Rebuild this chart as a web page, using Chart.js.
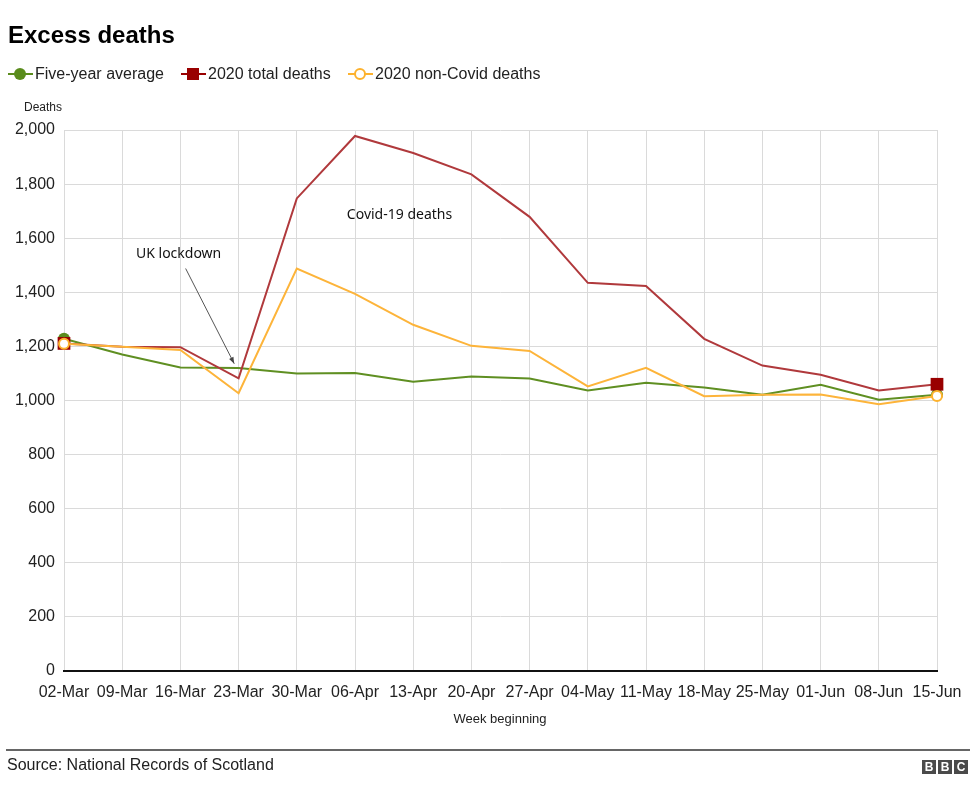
<!DOCTYPE html>
<html>
<head>
<meta charset="utf-8">
<script src="https://cdn.jsdelivr.net/npm/chart.js@4/dist/chart.umd.min.js"></script>
<style>
  html, body { margin:0; padding:0; background:#fff; }
  body { width:976px; height:800px; position:relative; overflow:hidden; font-family:"Liberation Sans", Arial, sans-serif; color:#222; }
  #c { position:absolute; left:0; top:0; }
  .abs { position:absolute; white-space:nowrap; }
  #title { left:8px; top:21px; font-size:24px; font-weight:bold; color:#000; }
  .leg { top:64px; font-size:16px; color:#222; display:flex; align-items:center; }
  .sym { position:relative; width:25px; height:20px; margin-right:2px; }
  .sym .ln { position:absolute; left:0; right:0; top:9px; height:2px; }
  .sym .mk { position:absolute; }
  #deaths { left:24px; top:100px; font-size:12px; color:#222; }
  #xtitle { left:0; width:1000px; top:711px; font-size:13px; color:#222; text-align:center; }
  #rule { left:6px; width:964px; top:749px; height:2px; background:#666; }
  #source { left:7px; top:756px; font-size:16px; color:#222; }
  #bbc { left:922px; top:760px; display:flex; gap:2px; }
  #bbc span { width:14px; height:14px; background:#4a4a4a; color:#fff; font-size:12px; font-weight:bold; text-align:center; line-height:14px; }
</style>
</head>
<body>
<canvas id="c" width="976" height="800"></canvas>
<div class="abs" id="title">Excess deaths</div>
<div class="abs leg" style="left:8px">
  <div class="sym"><div class="ln" style="background:#5a8c1c"></div><div class="mk" style="left:6px;top:4px;width:12px;height:12px;border-radius:50%;background:#5a8c1c"></div></div>Five-year average
</div>
<div class="abs leg" style="left:181px">
  <div class="sym"><div class="ln" style="background:#990000"></div><div class="mk" style="left:6px;top:4px;width:12px;height:12px;background:#990000"></div></div>2020 total deaths
</div>
<div class="abs leg" style="left:348px">
  <div class="sym"><div class="ln" style="background:#fdb22e"></div><div class="mk" style="left:6px;top:4px;width:8px;height:8px;border-radius:50%;background:#fff;border:2px solid #fdb22e"></div></div>2020 non-Covid deaths
</div>
<div class="abs" id="deaths">Deaths</div>
<div class="abs" id="xtitle">Week beginning</div>
<div class="abs" id="rule"></div>
<div class="abs" id="source">Source: National Records of Scotland</div>
<div class="abs" id="bbc"><span>B</span><span>B</span><span>C</span></div>
<script>
const weeks = ["02-Mar","09-Mar","16-Mar","23-Mar","30-Mar","06-Apr","13-Apr","20-Apr","27-Apr","04-May","11-May","18-May","25-May","01-Jun","08-Jun","15-Jun"];
const fiveYearAverage = [1228,1170,1122,1120,1100,1102,1069,1089,1081,1037,1066,1048,1021,1058,1003,1021];
const total2020 = [1211,1199,1197,1082,1747,1978,1915,1836,1679,1435,1423,1228,1129,1095,1037,1060];
const nonCovid2020 = [1210,1199,1187,1027,1488,1394,1280,1202,1183,1052,1121,1016,1021,1022,986,1017];
const yTicks = [0,200,400,600,800,1000,1200,1400,1600,1800,2000];

const endsOnly = (r) => (ctx) => (ctx.dataIndex === 0 || ctx.dataIndex === weeks.length - 1) ? r : 0;

const annotations = {
  id: 'annotations',
  afterDatasetsDraw(chart) {
    const {ctx, scales:{x, y}} = chart;
    ctx.save();
    ctx.fillStyle = '#111';
    ctx.font = '14px "Noto Sans", "Open Sans", sans-serif';
    ctx.textBaseline = 'middle';
    ctx.textAlign = 'left';
    ctx.fillText('UK lockdown', x.getPixelForValue(1.237), y.getPixelForValue(1542));
    ctx.fillText('Covid-19 deaths', x.getPixelForValue(4.86), y.getPixelForValue(1686));
    const x1 = x.getPixelForValue(2.09), y1 = y.getPixelForValue(1488);
    const x2 = x.getPixelForValue(2.925), y2 = y.getPixelForValue(1136);
    ctx.strokeStyle = '#555';
    ctx.lineWidth = 1;
    ctx.beginPath(); ctx.moveTo(x1, y1); ctx.lineTo(x2, y2); ctx.stroke();
    const a = Math.atan2(y2 - y1, x2 - x1), L = 7;
    ctx.fillStyle = '#444';
    ctx.beginPath();
    ctx.moveTo(x2, y2);
    ctx.lineTo(x2 - L*Math.cos(a - 0.35), y2 - L*Math.sin(a - 0.35));
    ctx.lineTo(x2 - L*Math.cos(a + 0.35), y2 - L*Math.sin(a + 0.35));
    ctx.closePath(); ctx.fill();
    ctx.restore();
  }
};

new Chart(document.getElementById('c'), {
  type: 'line',
  data: {
    labels: weeks,
    datasets: [
      { label: 'Five-year average', data: fiveYearAverage, borderColor: '#5f8f22', backgroundColor: '#5a8c1c',
        borderWidth: 2, pointStyle: 'circle', pointRadius: endsOnly(6), pointBorderWidth: 0, pointBackgroundColor: '#5a8c1c', order: 3, tension: 0 },
      { label: '2020 total deaths', data: total2020, borderColor: '#b0393c', backgroundColor: '#990000',
        borderWidth: 2, pointStyle: 'rect', pointRadius: endsOnly(9), pointBorderWidth: 0, pointBackgroundColor: '#990000', order: 2, tension: 0 },
      { label: '2020 non-Covid deaths', data: nonCovid2020, borderColor: '#fdb43a', backgroundColor: '#fff',
        borderWidth: 2, pointStyle: 'circle', pointRadius: endsOnly(5), pointBorderWidth: 2, pointBorderColor: '#fdb22e', pointBackgroundColor: '#fff', order: 1, tension: 0 }
    ]
  },
  options: {
    responsive: false,
    animation: false,
    events: [],
    layout: { padding: { top: 130, right: 39, bottom: 89, left: 0 } },
    plugins: { legend: { display: false }, tooltip: { enabled: false } },
    scales: {
      x: {
        offset: false,
        afterFit: (s) => { s.height = 40; },
        grid: { color: '#dadada', lineWidth: 1, drawTicks: false },
        border: { color: '#111', width: 2 },
        ticks: { color: '#222', font: { family: '"Liberation Sans", Arial, sans-serif', size: 16 }, padding: 12, maxRotation: 0, autoSkip: false }
      },
      y: {
        min: 0, max: 2000,
        afterFit: (s) => { s.width = 64; },
        afterBuildTicks: (s) => { s.ticks = yTicks.map(v => ({ value: v })); },
        grid: { color: '#dadada', lineWidth: 1, drawTicks: false },
        border: { display: false },
        ticks: { color: '#222', font: { family: '"Liberation Sans", Arial, sans-serif', size: 16 }, padding: 9,
                 callback: (v) => v.toLocaleString('en-US') }
      }
    }
  },
  plugins: [annotations]
});
</script>
</body>
</html>
